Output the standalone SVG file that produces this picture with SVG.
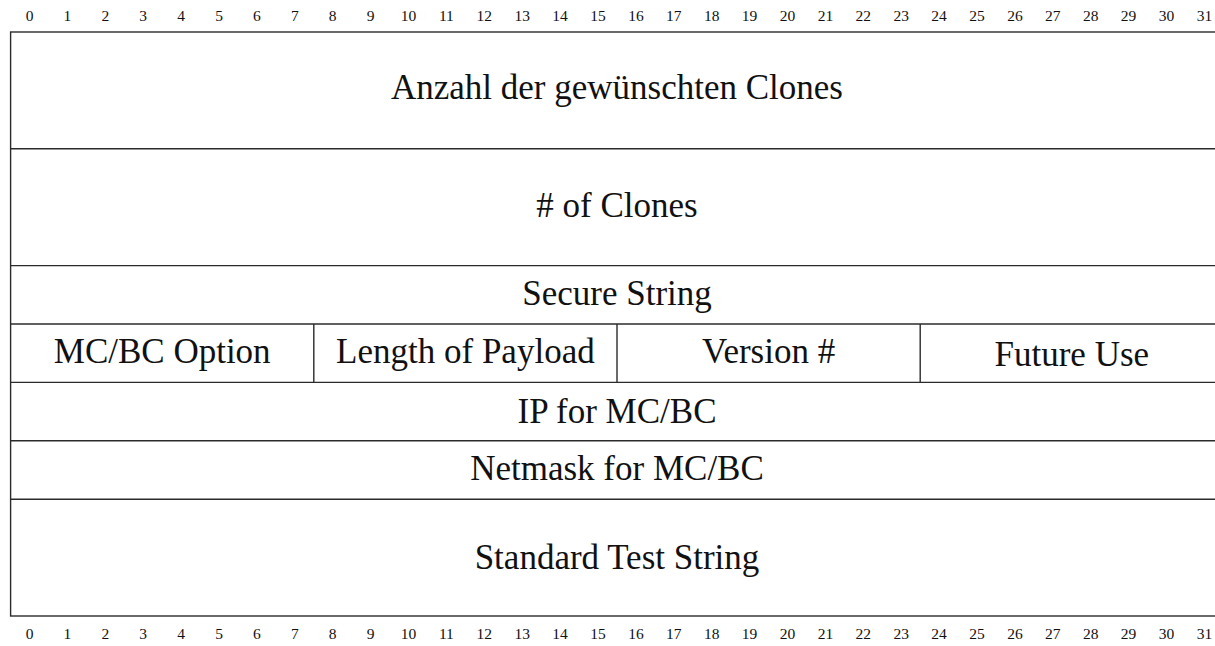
<svg xmlns="http://www.w3.org/2000/svg" width="1215" height="646" viewBox="0 0 1215 646">
  <style>
    .frame { fill: none; stroke: #2b2b2b; stroke-width: 1.4; }
    .rule { stroke: #2b2b2b; stroke-width: 1.4; }
    .label { font-family: "Liberation Serif", "DejaVu Serif", serif; font-size: 35px; fill: #111; text-anchor: middle; }
    .bit { font-family: "Liberation Serif", "DejaVu Serif", serif; font-size: 15.5px; fill: #111; text-anchor: middle; }
  </style>
  <rect width="1215" height="646" fill="#ffffff"/>

  <!-- bit ruler, top -->
  <g id="ruler-top" class="bit">
    <text x="29.5" y="21">0</text><text x="67.4" y="21">1</text><text x="105.3" y="21">2</text><text x="143.2" y="21">3</text>
    <text x="181.1" y="21">4</text><text x="219" y="21">5</text><text x="256.9" y="21">6</text><text x="294.8" y="21">7</text>
    <text x="332.7" y="21">8</text><text x="370.6" y="21">9</text><text x="408.5" y="21">10</text><text x="446.4" y="21">11</text>
    <text x="484.3" y="21">12</text><text x="522.2" y="21">13</text><text x="560.1" y="21">14</text><text x="598" y="21">15</text>
    <text x="635.9" y="21">16</text><text x="673.8" y="21">17</text><text x="711.7" y="21">18</text><text x="749.6" y="21">19</text>
    <text x="787.5" y="21">20</text><text x="825.4" y="21">21</text><text x="863.3" y="21">22</text><text x="901.2" y="21">23</text>
    <text x="939.1" y="21">24</text><text x="977" y="21">25</text><text x="1014.9" y="21">26</text><text x="1052.8" y="21">27</text>
    <text x="1090.7" y="21">28</text><text x="1128.6" y="21">29</text><text x="1166.5" y="21">30</text><text x="1204.4" y="21">31</text>
  </g>

  <!-- bit ruler, bottom -->
  <g id="ruler-bottom" class="bit">
    <text x="29.5" y="638.5">0</text><text x="67.4" y="638.5">1</text><text x="105.3" y="638.5">2</text><text x="143.2" y="638.5">3</text>
    <text x="181.1" y="638.5">4</text><text x="219" y="638.5">5</text><text x="256.9" y="638.5">6</text><text x="294.8" y="638.5">7</text>
    <text x="332.7" y="638.5">8</text><text x="370.6" y="638.5">9</text><text x="408.5" y="638.5">10</text><text x="446.4" y="638.5">11</text>
    <text x="484.3" y="638.5">12</text><text x="522.2" y="638.5">13</text><text x="560.1" y="638.5">14</text><text x="598" y="638.5">15</text>
    <text x="635.9" y="638.5">16</text><text x="673.8" y="638.5">17</text><text x="711.7" y="638.5">18</text><text x="749.6" y="638.5">19</text>
    <text x="787.5" y="638.5">20</text><text x="825.4" y="638.5">21</text><text x="863.3" y="638.5">22</text><text x="901.2" y="638.5">23</text>
    <text x="939.1" y="638.5">24</text><text x="977" y="638.5">25</text><text x="1014.9" y="638.5">26</text><text x="1052.8" y="638.5">27</text>
    <text x="1090.7" y="638.5">28</text><text x="1128.6" y="638.5">29</text><text x="1166.5" y="638.5">30</text><text x="1204.4" y="638.5">31</text>
  </g>

  <!-- packet frame and field boundaries -->
  <g id="grid">
    <rect class="frame" x="10.6" y="32" width="1213" height="584"/>
    <line class="rule" x1="10.6" y1="148.8" x2="1224" y2="148.8"/>
    <line class="rule" x1="10.6" y1="265.6" x2="1224" y2="265.6"/>
    <line class="rule" x1="10.6" y1="324" x2="1224" y2="324"/>
    <line class="rule" x1="10.6" y1="382.4" x2="1224" y2="382.4"/>
    <line class="rule" x1="10.6" y1="440.8" x2="1224" y2="440.8"/>
    <line class="rule" x1="10.6" y1="499.2" x2="1224" y2="499.2"/>
    <line class="rule" x1="313.8" y1="324" x2="313.8" y2="382.4"/>
    <line class="rule" x1="617" y1="324" x2="617" y2="382.4"/>
    <line class="rule" x1="920.2" y1="324" x2="920.2" y2="382.4"/>
  </g>

  <!-- fields -->
  <g id="f-clones-requested"><text class="label" x="617" y="99">Anzahl der gewünschten Clones</text></g>
  <g id="f-clone-count"><text class="label" x="617" y="217"># of Clones</text></g>
  <g id="f-secure-string"><text class="label" x="617" y="305">Secure String</text></g>
  <g id="f-mcbc-option"><text class="label" x="162.2" y="363">MC/BC Option</text></g>
  <g id="f-payload-length"><text class="label" x="465.4" y="363">Length of Payload</text></g>
  <g id="f-version"><text class="label" x="768.6" y="363">Version #</text></g>
  <g id="f-future-use"><text class="label" x="1071.8" y="365.5">Future Use</text></g>
  <g id="f-mcbc-ip"><text class="label" x="617" y="422.5">IP for MC/BC</text></g>
  <g id="f-mcbc-netmask"><text class="label" x="617" y="480">Netmask for MC/BC</text></g>
  <g id="f-test-string"><text class="label" x="617" y="568.5">Standard Test String</text></g>
</svg>
